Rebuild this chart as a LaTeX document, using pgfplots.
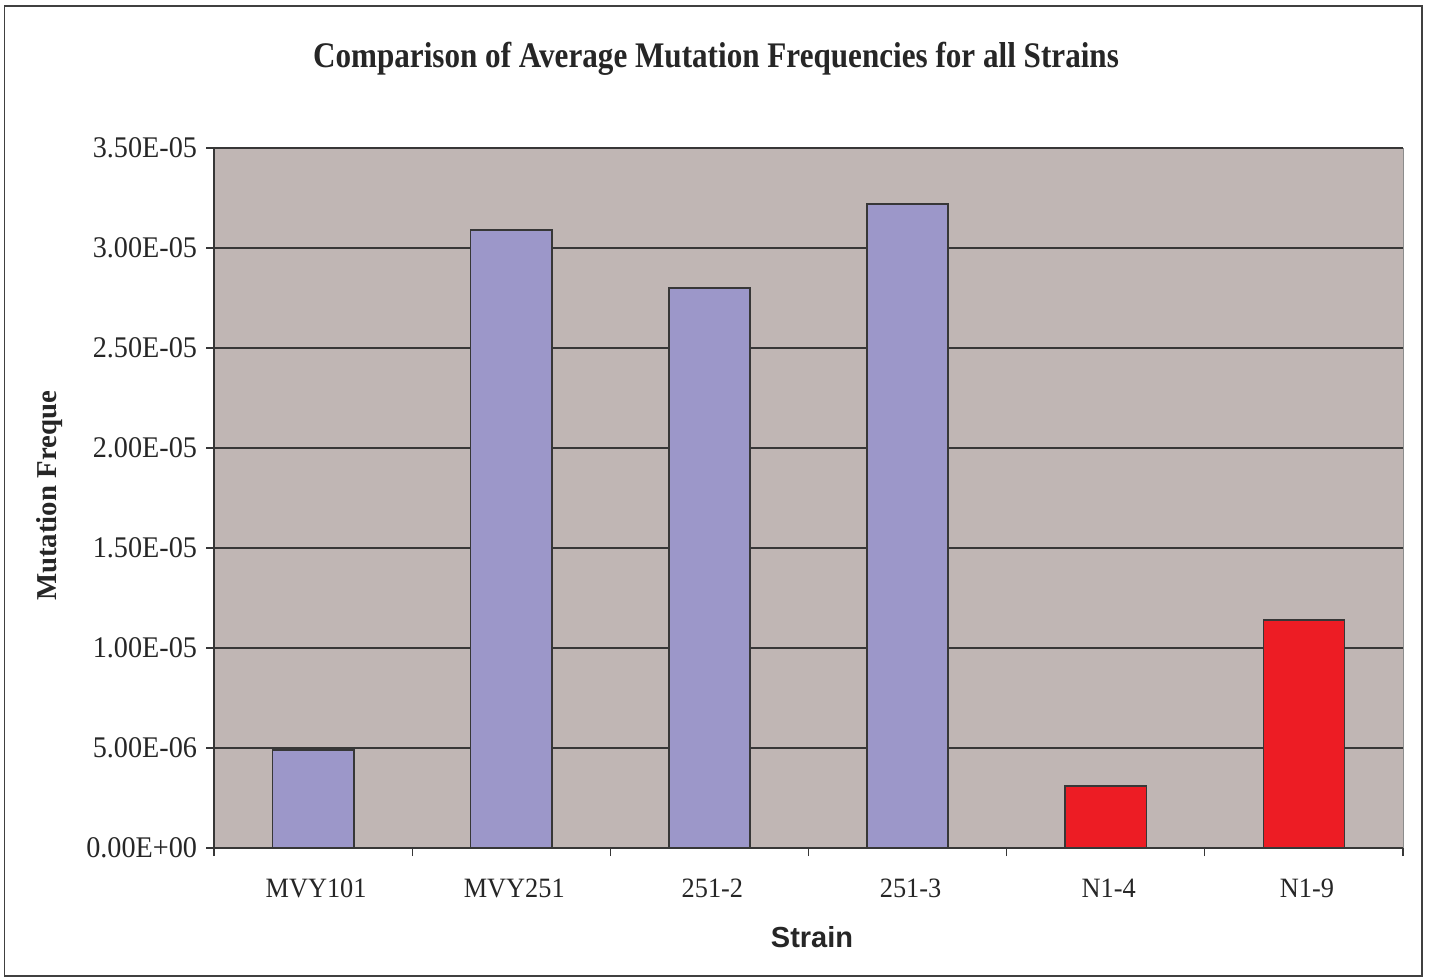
\documentclass[border=0pt]{standalone}
\usepackage{fontspec}
\setmainfont{Liberation Serif}
\newfontfamily\arialfont{Liberation Sans}
\newfontfamily\tickfont[FakeStretch=0.94]{Liberation Serif}
\usepackage{graphicx}
\usepackage{pgfplots}
\pgfplotsset{compat=1.18}
\definecolor{plotbg}{RGB}{192,182,180}
\definecolor{barpurple}{RGB}{156,151,201}
\definecolor{barred}{RGB}{237,28,36}
\definecolor{edgegray}{RGB}{55,55,55}
\begin{document}
\begin{tikzpicture}[x=1pt,y=1pt]
\fill[white] (0,0) rectangle (714.5,-489);
\draw[color=black!75, line width=0.7pt] (2.25,-3) rectangle (711,-488);
\begin{axis}[
  at={(108,-424)}, anchor=south west,
  scale only axis, width=594.5pt, height=350pt,
  xmin=-0.5, xmax=5.5, ymin=0, ymax=0.000035,
  axis background/.style={fill=plotbg, draw=black!45},
  axis x line=bottom, axis y line=left,
  axis line style={-, draw=edgegray, line width=0.6pt},
  xtick={0,1,2,3,4,5},
  xticklabels={MVY101,MVY251,251-2,251-3,N1-4,N1-9},
  minor xtick={-0.5,0.5,1.5,2.5,3.5,4.5,5.5},
  major x tick style={draw=none},
  minor x tick style={draw=edgegray, line width=0.6pt},
  minor tick length=4pt,
  ytick={0,0.000005,0.00001,0.000015,0.00002,0.000025,0.00003,0.000035},
  yticklabels={0.00E+00,5.00E-06,1.00E-05,1.50E-05,2.00E-05,2.50E-05,3.00E-05,3.50E-05},
  scaled y ticks=false,
  major tick length=4pt,
  tick align=outside,
  y tick style={draw=edgegray, line width=0.6pt},
  ymajorgrids, grid style={draw=edgegray, line width=0.6pt},
  xticklabel style={font=\tickfont\fontsize{14}{16}\selectfont, text=black!85, yshift=-8pt, xshift=1.5pt},
  yticklabel style={font=\tickfont\fontsize{15}{17}\selectfont, text=black!85, xshift=-1pt},
  ybar, bar width=0.41,
  clip=false,
]
\addplot[ybar, bar shift=0pt, fill=barpurple, draw=edgegray, line width=0.8pt]
  coordinates {(0,0.0000049) (1,0.0000309) (2,0.0000280) (3,0.0000322)};
\addplot[ybar, bar shift=0pt, fill=barred, draw=edgegray, line width=0.8pt]
  coordinates {(4,0.0000031) (5,0.0000114)};
\end{axis}
\node[text=black!85] at (358,-29.5) {\scalebox{0.865}[1]{\fontsize{18}{20}\selectfont\bfseries Comparison of Average Mutation Frequencies for all Strains}};
\node[rotate=90, text=black!85] at (25,-248) {\fontsize{14.4}{16}\selectfont\bfseries Mutation Freque};
\node[text=black!85] at (406,-468.5) {\arialfont\fontsize{14.5}{16}\selectfont\bfseries Strain};
\end{tikzpicture}
\end{document}
